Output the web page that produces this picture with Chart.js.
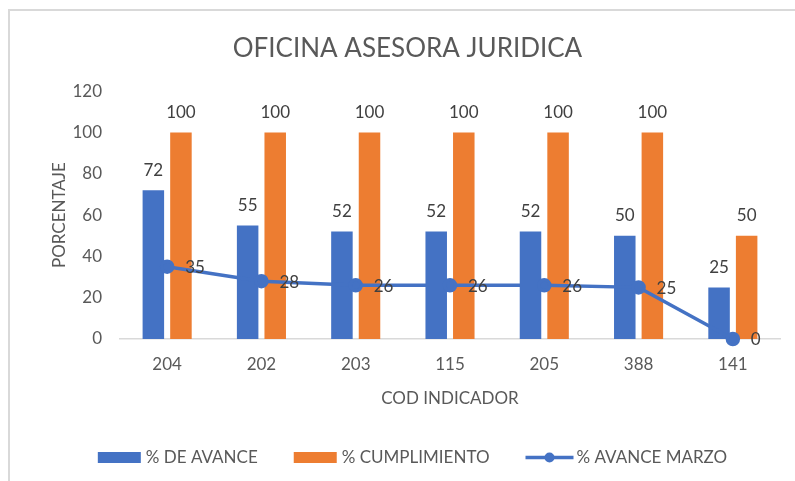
<!DOCTYPE html>
<html><head><meta charset="utf-8">
<script src="https://cdn.jsdelivr.net/npm/chart.js@4.4.0/dist/chart.umd.min.js"></script>
<style>html,body{margin:0;padding:0;background:#fff;}#wrap{width:795px;height:481px;}</style>
</head><body><div id="wrap"><canvas id="c" width="795" height="481"></canvas></div>
<script>
const categories = ['204', '202', '203', '115', '205', '388', '141'];
const avance = [72, 55, 52, 52, 52, 50, 25];
const cumplimiento = [100, 100, 100, 100, 100, 100, 50];
const avanceMarzo = [35, 28, 26, 26, 26, 25, 0];
const yMin = 0, yMax = 120, yStep = 20;

const BLUE = '#4472C4', ORANGE = '#ED7D31', AXIS_TXT = '#595959', LABEL_TXT = '#404040';
const FONT = 'Lato';

const framePlugin = {
  id: 'frame',
  beforeDraw(chart) {
    const ctx = chart.ctx;
    ctx.save();
    ctx.fillStyle = '#fff';
    ctx.fillRect(0, 0, chart.width, chart.height);
    ctx.strokeStyle = '#d9d9d9';
    ctx.lineWidth = 2;
    ctx.strokeRect(9, 10, chart.width + 20, chart.height + 20);
    ctx.restore();
  }
};

const labelPlugin = {
  id: 'valueLabels',
  afterDatasetsDraw(chart) {
    const ctx = chart.ctx;
    ctx.save();
    ctx.font = '17px ' + FONT;
    ctx.fillStyle = LABEL_TXT;
    chart.data.datasets.forEach((ds, i) => {
      const meta = chart.getDatasetMeta(i);
      meta.data.forEach((el, j) => {
        const v = ds.data[j];
        if (ds.type === 'line') {
          ctx.textAlign = 'left';
          ctx.textBaseline = 'middle';
          ctx.fillText(String(v), el.x + 18, el.y + 1);
        } else {
          ctx.textAlign = 'center';
          ctx.textBaseline = 'middle';
          ctx.fillText(String(v), el.x, el.y - 20);
        }
      });
    });
    ctx.restore();
  }
};

const legendPlugin = {
  id: 'customLegend',
  afterDraw(chart) {
    const ctx = chart.ctx;
    ctx.save();
    ctx.font = '17px ' + FONT;
    ctx.textBaseline = 'middle';
    ctx.textAlign = 'left';
    const items = [chart.data.datasets[1], chart.data.datasets[2], chart.data.datasets[0]];
    const boxW = 43, gapT = 5, gapItem = 36, cy = 457.5;
    let total = 0;
    items.forEach((d, k) => {
      total += boxW + gapT + ctx.measureText(d.label).width + (k < items.length - 1 ? gapItem : 0);
    });
    let x = 411 - total / 2;
    items.forEach(d => {
      if (d.type === 'line') {
        ctx.strokeStyle = d.borderColor;
        ctx.lineWidth = 3.5;
        ctx.beginPath();
        ctx.moveTo(x, cy); ctx.lineTo(x + boxW + 5, cy);
        ctx.stroke();
        ctx.fillStyle = d.borderColor;
        ctx.beginPath();
        ctx.arc(x + (boxW + 5) / 2, cy, 5, 0, Math.PI * 2);
        ctx.fill();
        x += boxW + 5 + 3;
      } else {
        ctx.fillStyle = d.backgroundColor;
        ctx.fillRect(x, cy - 5.5, boxW, 11);
        x += boxW + gapT;
      }
      ctx.fillStyle = AXIS_TXT;
      ctx.fillText(d.label, x, cy);
      x += ctx.measureText(d.label).width + gapItem;
    });
    ctx.restore();
  }
};

new Chart(document.getElementById('c'), {
  data: {
    labels: categories,
    datasets: [
      {
        type: 'line', label: '% AVANCE MARZO', data: avanceMarzo,
        borderColor: BLUE, backgroundColor: BLUE, borderWidth: 3.5,
        pointRadius: 5.5, pointBackgroundColor: BLUE, pointBorderColor: BLUE,
        order: 0, clip: false, tension: 0
      },
      {
        type: 'bar', label: '% DE AVANCE', data: avance,
        backgroundColor: BLUE, order: 1,
        barPercentage: 0.78, categoryPercentage: 0.585
      },
      {
        type: 'bar', label: '% CUMPLIMIENTO', data: cumplimiento,
        backgroundColor: ORANGE, order: 1,
        barPercentage: 0.78, categoryPercentage: 0.585
      }
    ]
  },
  options: {
    responsive: false,
    animation: false,
    devicePixelRatio: 1,
    layout: { padding: { left: 35, right: 15, top: 0, bottom: 0 } },
    plugins: {
      legend: { display: false },
      tooltip: { enabled: false },
      title: {
        display: true, text: 'OFICINA ASESORA JURIDICA', color: AXIS_TXT,
        font: { family: FONT, size: 26, weight: '400' },
        padding: { top: 33, bottom: 27 }
      }
    },
    scales: {
      x: {
        grid: { display: false, drawTicks: false },
        border: { display: true, color: '#d9d9d9', width: 1.5 },
        ticks: { color: AXIS_TXT, font: { family: FONT, size: 17 }, padding: 15 },
        title: { display: true, text: 'COD INDICADOR', color: AXIS_TXT,
          font: { family: FONT, size: 17 }, padding: { top: 0, bottom: 72 } },
        afterFit(s) { s.height = 142; }
      },
      y: {
        min: yMin, max: yMax,
        grid: { display: false, drawTicks: false },
        border: { display: false },
        ticks: { stepSize: yStep, color: AXIS_TXT, font: { family: FONT, size: 17 }, padding: 18 },
        title: { display: true, text: 'PORCENTAJE', color: AXIS_TXT,
          font: { family: FONT, size: 17 }, padding: { top: 14, bottom: 0 } },
        afterFit(s) { s.width = 85; }
      }
    }
  },
  plugins: [framePlugin, labelPlugin, legendPlugin]
});
</script></body></html>
